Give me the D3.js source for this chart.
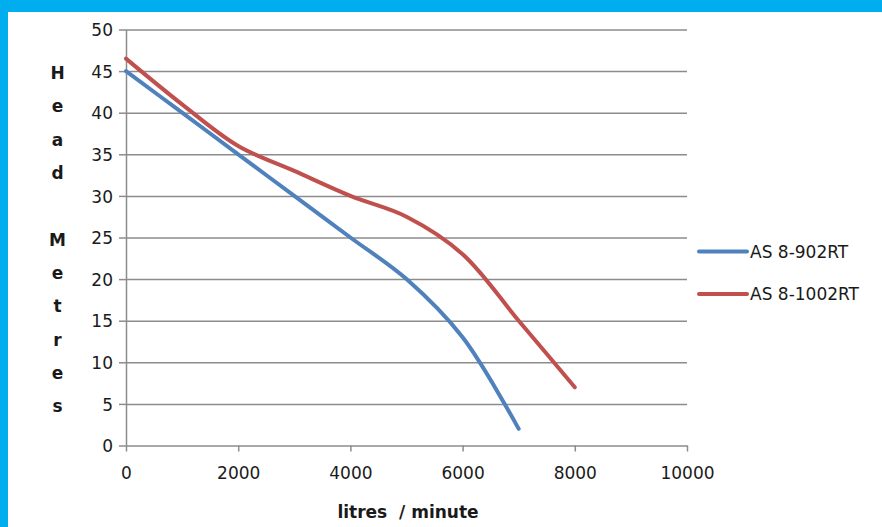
<!DOCTYPE html>
<html>
<head>
<meta charset="utf-8">
<script src="https://cdn.jsdelivr.net/npm/d3@7"></script>
<style>
  html, body { margin: 0; padding: 0; background: #fff; }
  svg { display: block; }
</style>
</head>
<body>
<script>
// ---- data ----
const flow = [0, 1000, 2000, 3000, 4000, 5000, 6000, 7000, 8000];
const headAS902 = [45, 40, 35, 30, 25, 20, 13, 2];
const headAS1002 = [46.5, 41, 36, 33, 30, 27.5, 23, 15, 7];
const seriesNames = ["AS 8-902RT", "AS 8-1002RT"];
const seriesColors = ["#4F81BD", "#C0504D"];
const xTicks = [0, 2000, 4000, 6000, 8000, 10000];
const yTicks = [0, 5, 10, 15, 20, 25, 30, 35, 40, 45, 50];
const xTitle = "litres  / minute";
const yTitleChars = ["H", "e", "a", "d", "", "M", "e", "t", "r", "e", "s"];

// ---- layout ----
const W = 882, H = 527;
const plot = { left: 126, right: 687, top: 29.5, bottom: 445.5 };
const gridColor = "#8c8c8c";
const font = "'DejaVu Sans', sans-serif";

const svg = d3.select("body").append("svg").attr("width", W).attr("height", H);

// border bands
svg.append("rect").attr("x", 0).attr("y", 0).attr("width", W).attr("height", 12).attr("fill", "#00AEEF");
svg.append("rect").attr("x", 0).attr("y", 0).attr("width", 8).attr("height", H).attr("fill", "#00AEEF");

const x = d3.scaleLinear().domain([0, 10000]).range([plot.left, plot.right]);
const y = d3.scaleLinear().domain([0, 50]).range([plot.bottom, plot.top]);

// gridlines + y axis
const yAxis = d3.axisLeft(y).tickValues(yTicks).tickSizeOuter(0).tickSizeInner(7).tickPadding(6);
const gy = svg.append("g").attr("transform", `translate(${plot.left},0)`).call(yAxis);
gy.select(".domain").attr("stroke", gridColor).attr("stroke-width", 1.5);
gy.selectAll(".tick line").attr("stroke", gridColor).attr("stroke-width", 1.5);
gy.selectAll(".tick text").attr("font-family", font).attr("font-size", 17).attr("fill", "#1a1a1a").attr("dy", "0.36em");
gy.selectAll(".tick").filter(d => d !== 0).append("line")
  .attr("x1", 0).attr("x2", plot.right - plot.left)
  .attr("stroke", gridColor).attr("stroke-width", 1.5);

// x axis
const xAxis = d3.axisBottom(x).tickValues(xTicks).tickSizeOuter(0).tickSizeInner(6).tickPadding(15).tickFormat(d3.format("d"));
const gx = svg.append("g").attr("transform", `translate(0,${plot.bottom})`).call(xAxis);
gx.select(".domain").attr("stroke", gridColor).attr("stroke-width", 1.5);
gx.selectAll(".tick line").attr("stroke", gridColor).attr("stroke-width", 1.5);
gx.selectAll(".tick text").attr("font-family", font).attr("font-size", 17).attr("fill", "#1a1a1a");

// axis titles
svg.append("text").attr("x", 408).attr("y", 518)
  .attr("text-anchor", "middle").attr("font-family", font).attr("font-weight", "bold")
  .attr("font-size", 17).attr("fill", "#1a1a1a")
  .style("white-space", "pre").text(xTitle);

svg.append("g").selectAll("text").data(yTitleChars).join("text")
  .attr("x", 57.5).attr("y", (d, i) => 73 + i * 33.3)
  .attr("dy", "0.36em").attr("text-anchor", "middle")
  .attr("font-family", font).attr("font-weight", "bold").attr("font-size", 17).attr("fill", "#1a1a1a")
  .text(d => d);

// series
const line = d3.line().x(d => x(d[0])).y(d => y(d[1])).curve(d3.curveCatmullRom.alpha(0.5));
const series = [
  flow.slice(0, headAS902.length).map((f, i) => [f, headAS902[i]]),
  flow.map((f, i) => [f, headAS1002[i]])
];
svg.append("g").selectAll("path").data(series).join("path")
  .attr("d", line).attr("fill", "none")
  .attr("stroke", (d, i) => seriesColors[i]).attr("stroke-width", 4)
  .attr("stroke-linecap", "round").attr("stroke-linejoin", "round");

// legend
const leg = svg.append("g").selectAll("g").data(seriesNames).join("g")
  .attr("transform", (d, i) => `translate(699,${251.5 + i * 42.5})`);
leg.append("line").attr("x1", 0).attr("x2", 48)
  .attr("stroke", (d, i) => seriesColors[i]).attr("stroke-width", 4).attr("stroke-linecap", "round");
leg.append("text").attr("x", 51).attr("dy", "0.36em")
  .attr("font-family", font).attr("font-size", 17).attr("fill", "#1a1a1a").text(d => d);
</script>
</body>
</html>
